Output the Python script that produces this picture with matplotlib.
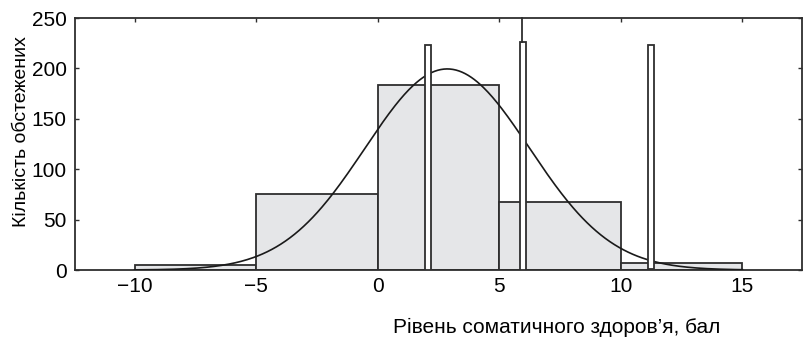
"""Histogram of somatic health level with fitted normal curve."""
import math

import matplotlib

matplotlib.use("Agg")
import matplotlib.pyplot as plt
import numpy as np

plt.rcParams["font.family"] = ["Liberation Sans", "DejaVu Sans"]

# Histogram bins (left edges, width 5) and counts
bin_edges = [-10, -5, 0, 5, 10, 15]
bin_counts = [5, 75, 184, 67, 7]

# Narrow marker bars: left, right, bottom, top
marker_left = [1.94, 5.85, 11.13]
marker_right = [2.19, 6.10, 11.37]
marker_bottom = [0, 0, 1.3]
marker_top = [223.5, 226, 223]

# Vertical line above the middle marker
vline_x = 5.95

# Fitted normal curve parameters
fit_mean = 2.86
fit_sd = 3.38

x_ticks = [-10, -5, 0, 5, 10, 15]
x_tick_labels = ["\u221210", "\u22125", "0", "5", "10", "15"]
y_ticks = [0, 50, 100, 150, 200, 250]

x_label = "Рівень соматичного здоров’я, бал"
y_label = "Кількість обстежених"

BAR_FILL = "#e5e6e8"
EDGE = "#2e2e2e"

fig = plt.figure(figsize=(8.04, 3.40), dpi=100)
ax = fig.add_axes([75 / 804, 1 - 270 / 340, 727 / 804, 252 / 340])

# Histogram bars
widths = np.diff(bin_edges)
ax.bar(bin_edges[:-1], bin_counts, width=widths, align="edge",
       color=BAR_FILL, edgecolor=EDGE, linewidth=1.3, zorder=2)

# Fitted normal curve
n_total = sum(bin_counts)
bin_width = widths[0]
xs = np.linspace(bin_edges[0], bin_edges[-1], 400)
ys = (n_total * bin_width / (fit_sd * math.sqrt(2 * math.pi))
      * np.exp(-0.5 * ((xs - fit_mean) / fit_sd) ** 2))
ax.plot(xs, ys, color="#1a1a1a", linewidth=1.2, zorder=3)

# Narrow marker bars
for left, right, bottom, top in zip(marker_left, marker_right, marker_bottom, marker_top):
    ax.bar(left, top - bottom, bottom=bottom, width=right - left, align="edge",
           color="white", edgecolor=EDGE, linewidth=1.3, zorder=4)
ax.plot([vline_x, vline_x], [marker_top[1], 250], color=EDGE, linewidth=1.3,
        zorder=4, clip_on=False)

ax.set_xlim(-12.45, 17.45)
ax.set_ylim(0, 250)

ax.set_xticks(x_ticks)
ax.set_xticklabels(x_tick_labels)
ax.set_yticks(y_ticks)

ax.tick_params(axis="x", direction="in", length=3, width=1, color=EDGE,
               pad=5, labelsize=15, top=True, bottom=False, labeltop=False)
ax.tick_params(axis="y", direction="in", length=3, width=1, color=EDGE,
               pad=6, labelsize=15, right=True, left=True)

for spine in ax.spines.values():
    spine.set_color(EDGE)
    spine.set_linewidth(1.3)

ax.set_ylabel(y_label, fontsize=14)
ax.yaxis.set_label_coords(-0.074, 0.55)
ax.yaxis.label.set_verticalalignment("center")
ax.set_xlabel(x_label, fontsize=15)
ax.xaxis.set_label_coords(0.662, -0.23)
ax.xaxis.label.set_verticalalignment("center")

fig.savefig("out.png", dpi=100)
